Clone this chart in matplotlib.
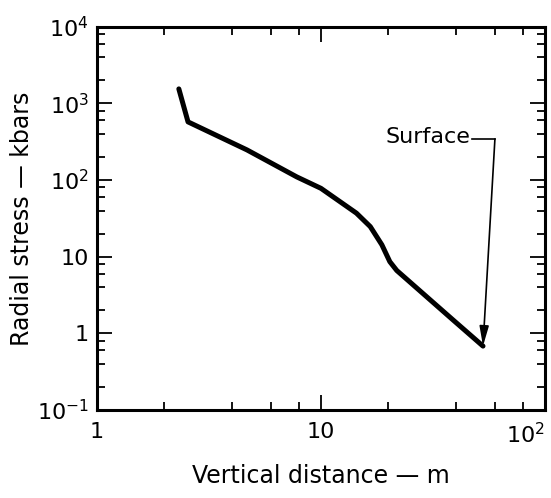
import numpy as np
import matplotlib
matplotlib.use("Agg")
import matplotlib.pyplot as plt
from matplotlib.ticker import LogLocator, NullFormatter, FixedLocator, FixedFormatter

# Values (vertical distance in m, radial stress in kbar).
dist_m = [2.32, 2.55, 4.67, 7.8, 10.0, 14.4, 16.6, 18.7, 20.3, 21.8, 38.8, 52.9]
stress_kbar = [1550, 575, 248, 110, 78, 37, 24.7, 14.3, 8.6, 6.6, 1.5, 0.68]

xtick_vals = [1, 10, 100]
xtick_labels = ["1", "10", r"$\mathdefault{10^{2}}$"]
ytick_vals = [0.1, 1, 10, 100, 1000, 10000]
ytick_labels = [r"$\mathdefault{10^{-1}}$", "1", "10",
                r"$\mathdefault{10^{2}}$", r"$\mathdefault{10^{3}}$",
                r"$\mathdefault{10^{4}}$"]

# "Surface" callout: label anchor, elbow of the leader, tip on the curve end.
surface_text = (46.5, 365)
surface_elbow = (59.8, 345)
surface_tip = (dist_m[-1], stress_kbar[-1])

plt.rcParams["font.family"] = ["DejaVu Sans"]

fig = plt.figure(figsize=(5.51, 4.98), dpi=100)
ax = fig.add_axes([0.176, 0.177, 0.813, 0.769])

ax.plot(dist_m, stress_kbar, color="black", lw=3.6, solid_joinstyle="round",
        solid_capstyle="round")

ax.set_xscale("log")
ax.set_yscale("log")
ax.set_xlim(1, 100)
ax.set_ylim(0.1, 10000)

ax.xaxis.set_major_locator(FixedLocator(xtick_vals))
ax.xaxis.set_major_formatter(FixedFormatter(xtick_labels))
ax.yaxis.set_major_locator(FixedLocator(ytick_vals))
ax.yaxis.set_major_formatter(FixedFormatter(ytick_labels))
for axis in (ax.xaxis, ax.yaxis):
    axis.set_minor_locator(LogLocator(base=10, subs=[2, 4, 6, 8]))
    axis.set_minor_formatter(NullFormatter())

ax.tick_params(which="both", direction="in", top=True, right=True,
               width=1.3, colors="black")
ax.tick_params(which="major", length=11, labelsize=16)
ax.tick_params(which="minor", length=5.5)
ax.tick_params(axis="x", which="major", pad=9)
ax.tick_params(axis="y", which="major", pad=6)
for sp in ax.spines.values():
    sp.set_linewidth(2.2)

# last x label sits flush with the right spine, as in the original
ax.get_xticklabels()[-1].set_horizontalalignment("right")

ax.set_xlabel("Vertical distance — m", fontsize=17, labelpad=12)
ax.set_ylabel("Radial stress — kbars", fontsize=17, labelpad=2)

# Callout with elbow leader and filled arrow head
ax.text(surface_text[0], surface_text[1], "Surface", fontsize=16,
        ha="right", va="center")
ax.plot([surface_text[0] * 1.02, surface_elbow[0]],
        [surface_elbow[1], surface_elbow[1]], color="black", lw=1.2)
ax.annotate("", xy=surface_tip, xytext=surface_elbow,
            arrowprops=dict(arrowstyle="-|>,head_length=1.2,head_width=0.28",
                            color="black", lw=1.2, shrinkA=0, shrinkB=0))

fig.savefig("out.png", dpi=100, facecolor="white")
